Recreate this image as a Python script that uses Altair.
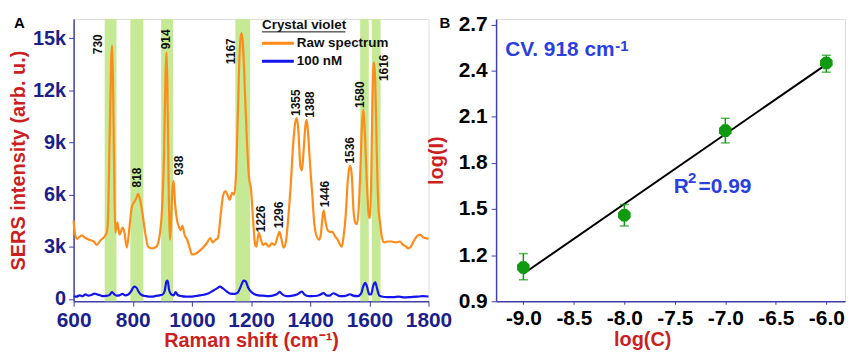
import altair as alt
import pandas as pd

# ---------------- data: panel A (SERS spectra) ----------------
raw_x = [600, 605, 612, 627, 640, 655, 668, 678, 690, 705, 712, 716, 722, 727, 730, 733, 737, 741,
         748, 755, 766, 772, 780, 790, 797, 806, 812, 818, 826, 833, 842, 852, 865, 880, 893, 900,
         906, 911, 914, 917, 921, 926, 930, 934, 938, 943, 950, 957, 962, 968, 975, 984, 993, 1000,
         1012, 1025, 1040, 1050, 1062, 1070, 1080, 1088, 1097, 1105, 1113, 1120, 1128, 1136, 1143,
         1150, 1156, 1162, 1167, 1172, 1178, 1185, 1193, 1200, 1207, 1214, 1218, 1226, 1232, 1240,
         1250, 1260, 1270, 1280, 1290, 1296, 1302, 1310, 1318, 1326, 1334, 1342, 1350, 1355, 1360,
         1367, 1372, 1378, 1384, 1388, 1393, 1400, 1407, 1414, 1420, 1430, 1436, 1441, 1446, 1451,
         1458, 1466, 1475, 1484, 1493, 1500, 1507, 1513, 1520, 1527, 1532, 1536, 1541, 1546, 1552,
         1558, 1564, 1570, 1575, 1580, 1585, 1592, 1598, 1602, 1606, 1610, 1614, 1616, 1620, 1625,
         1630, 1636, 1643, 1650, 1660, 1675, 1690, 1703, 1714, 1725, 1731, 1740, 1748, 1756, 1765,
         1772, 1781, 1790, 1800]
raw_y = [4500, 3700, 3450, 3650, 3500, 3380, 3300, 3100, 3350, 3600, 3800, 4500, 9500, 13800, 14600,
         12800, 7500, 3800, 4400, 3700, 4100, 3800, 2950, 4300, 5300, 5600, 5800, 6050, 5600, 4900,
         3800, 3000, 2900, 3000, 3900, 5500, 8500, 13000, 14200, 12500, 7000, 3400, 4500, 6300, 6800,
         5500, 4500, 4100, 3950, 4200, 3700, 3400, 2900, 2550, 2600, 2750, 3000, 3200, 3500, 3250,
         3400, 3500, 4800, 5900, 6200, 6000, 5700, 6100, 6000, 7500, 11000, 14500, 15300, 14800,
         12500, 9500, 7000, 6300, 4500, 3100, 3000, 3800, 3500, 3100, 3200, 3000, 3200, 3100, 3600,
         3850, 3500, 2950, 3300, 4700, 6500, 8800, 10200, 10400, 9700, 7600, 7400, 8600, 10000,
         10300, 9500, 7600, 6000, 4300, 3700, 3400, 3700, 4600, 5100, 4500, 4000, 3850, 3850, 3600,
         3400, 3150, 3000, 3600, 4800, 6800, 7500, 7650, 7000, 5200, 4400, 4300, 5200, 7600, 10000,
         10900, 9500, 6500, 4800, 4650, 6500, 11000, 13400, 13600, 12500, 8500, 5500, 4400, 3500,
         3250, 3300, 3300, 3250, 3300, 3100, 3000, 2900, 3000, 3250, 3500, 3650, 3700, 3550, 3500,
         3450]

nm_x = [600, 610, 620, 630, 640, 650, 660, 670, 680, 690, 700, 710, 720, 730, 738, 745, 755, 765,
        775, 785, 795, 805, 812, 820, 830, 845, 860, 875, 890, 900, 908, 914, 918, 923, 930, 938,
        945, 952, 965, 980, 1000, 1020, 1040, 1055, 1070, 1085, 1095, 1105, 1118, 1130, 1145, 1155,
        1165, 1175, 1182, 1190, 1200, 1210, 1225, 1240, 1260, 1280, 1290, 1297, 1305, 1320, 1340,
        1355, 1365, 1372, 1380, 1395, 1415, 1430, 1445, 1455, 1465, 1478, 1488, 1500, 1520, 1535,
        1545, 1560, 1572, 1580, 1586, 1592, 1600, 1606, 1613, 1620, 1626, 1633, 1645, 1660, 1680,
        1700, 1720, 1740, 1760, 1780, 1800]
nm_y = [150, 120, 200, 150, 250, 180, 220, 300, 250, 200, 150, 170, 200, 380, 250, 180, 200, 280,
        200, 250, 450, 700, 650, 400, 220, 150, 120, 150, 200, 230, 450, 1000, 1050, 500, 250, 200,
        380, 220, 150, 120, 130, 180, 230, 300, 450, 600, 700, 600, 420, 300, 280, 350, 700, 1050,
        1000, 650, 400, 280, 200, 180, 150, 220, 300, 400, 260, 150, 180, 250, 350, 420, 250, 150,
        160, 200, 330, 200, 180, 320, 250, 150, 170, 260, 180, 150, 300, 750, 920, 700, 250, 250,
        750, 950, 600, 200, 120, 100, 100, 120, 80, 100, 120, 150, 130]

band_start = [705, 792, 896, 1147, 1569, 1608]
band_end = [745, 836, 936, 1197, 1598, 1638]

peak_labels = ["730", "818", "914", "938", "1167", "1226", "1296", "1355", "1388", "1446",
               "1536", "1580", "1616"]
peak_label_x = [682, 816, 913, 957, 1131, 1235, 1295, 1352, 1399, 1449, 1533, 1570, 1650]
peak_label_y = [14084, 6412, 14370, 7099, 13511, 3836, 4065, 10534, 10420, 5267, 7786, 10992, 12538]

series_names = ["Raw spectrum", "100 nM"]

# ---------------- data: panel B (calibration) ----------------
log_c = [-9.0, -8.0, -7.0, -6.0]
log_i = [1.12, 1.46, 2.01, 2.45]
err_lo = [1.04, 1.39, 1.93, 2.39]
err_hi = [1.21, 1.53, 2.09, 2.50]

# annotation pieces (main text + superscript)
ann_text = ["CV. 918 cm", "R", "=0.99"]
ann_x = [-9.18, -7.51, -7.265]
ann_y = [2.493, 1.601, 1.601]
sup_text = ["-1", "2"]
sup_x = [-8.09, -7.37]
sup_y = [2.527, 1.668]

# ---------------- styling ----------------
ORANGE = "#ff8c1a"
BLUE = "#1414f0"
BAND = "#c6e995"
NAVY = "#1b1f8c"
RED = "#cc1f1f"
FRAME = "#4040a8"
GREEN = "#0f9a0f"
TXTBLUE = "#2a3fe0"
FONT = "Liberation Sans"
H = 284

spec = pd.concat([
    pd.DataFrame({"shift": raw_x, "intensity": raw_y, "series": series_names[0], "order": 0}),
    pd.DataFrame({"shift": nm_x, "intensity": nm_y, "series": series_names[1], "order": 1}),
])
bands = pd.DataFrame({"x1": band_start, "x2": band_end})
peaks = pd.DataFrame({"label": peak_labels, "x": peak_label_x, "y": peak_label_y})

xsc_a = alt.Scale(domain=[600, 1800], nice=False, zero=False)
ysc_a = alt.Scale(domain=[-143, 16116], nice=False, zero=False)

x_axis_a = alt.Axis(
    values=list(range(600, 1801, 100)),
    labelExpr="datum.value % 200 == 0 ? datum.value : ''",
    labelFont=FONT, labelFontSize=21, labelFontWeight="bold", labelColor=NAVY,
    labelPadding=3, tickSize=5, tickColor=FRAME, domainColor=FRAME, domainWidth=1.5,
    grid=False, title="Raman shift (cm⁻¹)", titleFont=FONT, titleFontSize=20,
    titleFontWeight="bold", titleColor=RED, titlePadding=0, labelFlush=False,
)
y_axis_a = alt.Axis(
    values=list(range(0, 15001, 1500)),
    labelExpr="datum.value % 3000 == 0 ? (datum.value == 0 ? '0' : datum.value / 1000 + 'k') : ''",
    labelFont=FONT, labelFontSize=20, labelFontWeight="bold", labelColor=NAVY,
    labelPadding=3, tickSize={"condition": {"test": "datum.value % 3000 == 0", "value": 5}, "value": 2},
    tickColor=FRAME, domainColor=FRAME, domainWidth=1.5, grid=False,
    title="SERS intensity (arb. u.)", titleFont=FONT, titleFontSize=20, titleFontWeight="bold",
    titleColor=RED, titlePadding=4,
)

band_layer = alt.Chart(bands).mark_rect(color=BAND).encode(
    x=alt.X("x1:Q", scale=xsc_a, axis=x_axis_a),
    x2="x2:Q",
    y=alt.value(0),
    y2=alt.value(H),
)

line_layer = alt.Chart(spec).mark_line(strokeWidth=2.2, interpolate="monotone").encode(
    x=alt.X("shift:Q", scale=xsc_a),
    y=alt.Y("intensity:Q", scale=ysc_a, axis=y_axis_a),
    color=alt.Color("series:N", scale=alt.Scale(domain=series_names, range=[ORANGE, BLUE]), legend=None),
    detail="series:N",
    order="order:Q",
)

peak_layer = alt.Chart(peaks).mark_text(
    angle=270, align="left", baseline="middle", font=FONT, fontSize=12, fontWeight="bold", color="#111111"
).encode(
    x=alt.X("x:Q", scale=xsc_a),
    y=alt.Y("y:Q", scale=ysc_a),
    text="label:N",
)

# manual legend (decoration)
leg_title = alt.Chart(pd.DataFrame({"t": ["Crystal violet"]})).mark_text(
    align="left", baseline="alphabetic", font=FONT, fontSize=13.5, fontWeight="bold", color="#111111"
).encode(text="t:N", x=alt.value(189.5), y=alt.value(10.5))
leg_underline = alt.Chart(pd.DataFrame({"t": [0]})).mark_rule(color="#111111", strokeWidth=1).encode(
    x=alt.value(189.5), x2=alt.value(273.5), y=alt.value(13))
leg_df = pd.DataFrame({"series": series_names, "py": [24.5, 42.5]})
leg_lines = alt.Chart(leg_df).mark_rule(strokeWidth=3).encode(
    x=alt.value(189.5), x2=alt.value(221.5), y=alt.Y("py:Q", scale=None),
    color=alt.Color("series:N", scale=alt.Scale(domain=series_names, range=[ORANGE, BLUE]), legend=None),
)
leg_text = alt.Chart(leg_df).mark_text(
    align="left", baseline="middle", font=FONT, fontSize=13.5, fontWeight="bold", color="#111111"
).encode(text="series:N", x=alt.value(224.5), y=alt.Y("py:Q", scale=None))

label_a = alt.Chart(pd.DataFrame({"t": ["A"]})).mark_text(
    align="left", baseline="top", font=FONT, fontSize=15, fontWeight="bold", color="#000000"
).encode(text="t:N", x=alt.value(-60), y=alt.value(-3))

panel_a = alt.layer(
    band_layer, line_layer, peak_layer, leg_title, leg_underline, leg_lines, leg_text, label_a
).properties(width=357, height=H)

# ---------------- panel B ----------------
cal = pd.DataFrame({"logc": log_c, "logi": log_i, "lo": err_lo, "hi": err_hi})
xsc_b = alt.Scale(domain=[-9.27, -5.815], nice=False, zero=False)
ysc_b = alt.Scale(domain=[0.9, 2.736], nice=False, zero=False)

x_axis_b = alt.Axis(
    values=[-9.0 + 0.25 * i for i in range(13)],
    labelExpr="abs(round(datum.value * 100)) % 50 == 0 ? (datum.value < 0 ? '-' : '') + format(abs(datum.value), '.1f') : ''",
    labelFont=FONT, labelFontSize=21, labelFontWeight="bold", labelColor="#000000",
    labelPadding=3, tickSize=3, tickColor=FRAME, domainColor=FRAME, domainWidth=1.5, grid=False,
    title="log(C)", titleFont=FONT, titleFontSize=20, titleFontWeight="bold", titleColor=RED,
    titlePadding=1, titleX=147, labelFlush=False,
)
y_axis_b = alt.Axis(
    values=[round(0.9 + 0.15 * i, 2) for i in range(13)],
    labelExpr="abs(round(datum.value * 100)) % 30 == 0 ? format(datum.value, '.1f') : ''",
    labelFont=FONT, labelFontSize=21, labelFontWeight="bold", labelColor="#000000",
    labelPadding=4, tickSize={"condition": {"test": "abs(round(datum.value * 100)) % 30 == 0", "value": 5}, "value": 2},
    tickColor=FRAME, domainColor=FRAME, domainWidth=1.5, grid=False,
    title="log(I)", titleFont=FONT, titleFontSize=20, titleFontWeight="bold", titleColor=RED,
    titlePadding=12,
)

fit_layer = alt.Chart(cal).transform_regression("logc", "logi", extent=[-9.0, -6.0]).mark_line(
    color="#000000", strokeWidth=2
).encode(
    x=alt.X("logc:Q", scale=xsc_b, axis=x_axis_b),
    y=alt.Y("logi:Q", scale=ysc_b, axis=y_axis_b),
)
err_rule = alt.Chart(cal).mark_rule(color=GREEN, strokeWidth=1.5).encode(
    x=alt.X("logc:Q", scale=xsc_b), y=alt.Y("lo:Q", scale=ysc_b), y2="hi:Q")
err_cap_lo = alt.Chart(cal).mark_tick(color=GREEN, orient="horizontal", size=9, thickness=1.5).encode(
    x=alt.X("logc:Q", scale=xsc_b), y=alt.Y("lo:Q", scale=ysc_b))
err_cap_hi = alt.Chart(cal).mark_tick(color=GREEN, orient="horizontal", size=9, thickness=1.5).encode(
    x=alt.X("logc:Q", scale=xsc_b), y=alt.Y("hi:Q", scale=ysc_b))
OCT = "M-0.42,-1L0.42,-1L1,-0.42L1,0.42L0.42,1L-0.42,1L-1,0.42L-1,-0.42Z"
pts = alt.Chart(cal).mark_point(shape=OCT, filled=True, size=160, color=GREEN, opacity=1).encode(
    x=alt.X("logc:Q", scale=xsc_b), y=alt.Y("logi:Q", scale=ysc_b))

ann = pd.DataFrame({"t": ann_text, "x": ann_x, "y": ann_y})
ann_layer = alt.Chart(ann).mark_text(
    align="left", baseline="alphabetic", font=FONT, fontSize=21, fontWeight="bold", color=TXTBLUE
).encode(x=alt.X("x:Q", scale=xsc_b), y=alt.Y("y:Q", scale=ysc_b), text="t:N")
sup = pd.DataFrame({"t": sup_text, "x": sup_x, "y": sup_y})
sup_layer = alt.Chart(sup).mark_text(
    align="left", baseline="alphabetic", font=FONT, fontSize=15, fontWeight="bold", color=TXTBLUE
).encode(x=alt.X("x:Q", scale=xsc_b), y=alt.Y("y:Q", scale=ysc_b), text="t:N")

label_b = alt.Chart(pd.DataFrame({"t": ["B"]})).mark_text(
    align="left", baseline="top", font=FONT, fontSize=15, fontWeight="bold", color="#000000"
).encode(text="t:N", x=alt.value(-57), y=alt.value(-3))

panel_b = alt.layer(fit_layer, err_rule, err_cap_lo, err_cap_hi, pts, ann_layer, sup_layer, label_b).properties(
    width=351, height=H)

chart = alt.hconcat(panel_a, panel_b, spacing=68, bounds="flush").properties(
    padding={"left": 0, "top": 4, "right": 0, "bottom": 0}
).configure_view(
    stroke=FRAME, strokeWidth=1.5, fill="#f8f8f8"
).configure(background="#ffffff")

chart.save("out.html", embed_options={"renderer": "svg", "actions": False})
